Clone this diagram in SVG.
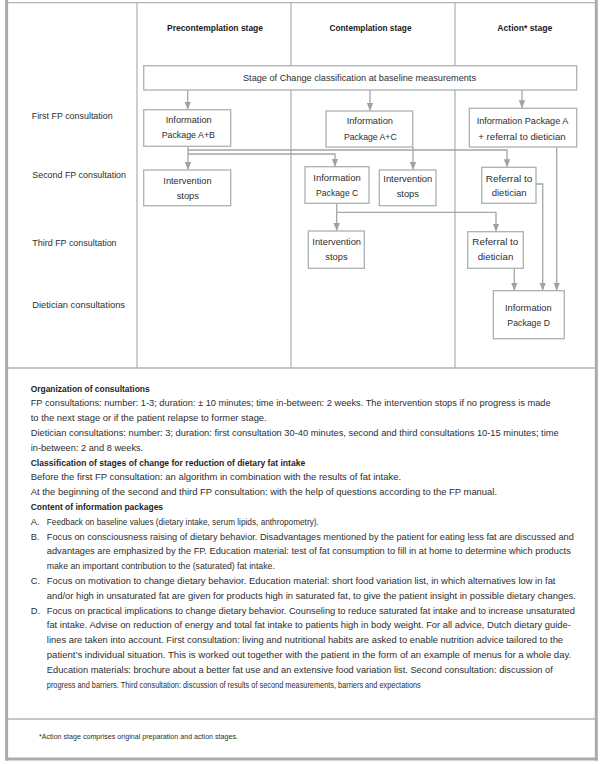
<svg xmlns="http://www.w3.org/2000/svg" width="600" height="764" viewBox="0 0 600 764">
<style>
text{font-family:"Liberation Sans",Arial,sans-serif;font-size:9.3px;fill:#2e2e2e}
.b{font-weight:bold;fill:#1e1e1e}
.h{font-weight:bold;fill:#1a1a1a}
.c{text-anchor:middle}
.box{fill:#fff;stroke:#acb1b1;stroke-width:1.3}
.grid{stroke:#b0b5b5;stroke-width:1.3;fill:none}
.frame{stroke:#a7adad;stroke-width:3;fill:none}
.con{stroke:#a2a7a7;stroke-width:1.3;fill:none}
.fn{font-size:7px}
</style>
<defs>
<marker id="ah" markerWidth="8" markerHeight="8" refX="8" refY="4" orient="auto" markerUnits="userSpaceOnUse">
<path d="M0,0.8 L8,4 L0,7.2 Z" fill="#9da2a2"/>
</marker>
</defs>
<rect width="600" height="764" fill="#fff"/>
<g id="frame">
<line class="grid" x1="8" y1="2.6" x2="595" y2="2.6"/>
<line class="frame" x1="6.6" y1="0" x2="6.6" y2="760.5"/>
<line class="frame" x1="596.3" y1="0" x2="596.3" y2="760.5"/>
<line class="frame" x1="5" y1="759" x2="598" y2="759"/>
<line class="grid" x1="137" y1="3" x2="137" y2="368"/>
<line class="grid" x1="291" y1="3" x2="291" y2="368"/>
<line class="grid" x1="455" y1="3" x2="455" y2="368"/>
<line class="grid" x1="8" y1="368" x2="595" y2="368"/>
<line class="grid" x1="8" y1="719" x2="595" y2="719"/>
</g>
<g id="headers">
<text class="h c" x="215" y="31" textLength="96" lengthAdjust="spacingAndGlyphs">Precontemplation stage</text>
<text class="h c" x="370.5" y="31" textLength="82" lengthAdjust="spacingAndGlyphs">Contemplation stage</text>
<text class="h c" x="524.8" y="31" textLength="55" lengthAdjust="spacingAndGlyphs">Action* stage</text>
</g>
<g id="row-labels">
<text x="31.7" y="119.3" textLength="81" lengthAdjust="spacingAndGlyphs">First FP consultation</text>
<text x="32.3" y="178.3" textLength="93.7" lengthAdjust="spacingAndGlyphs">Second FP consultation</text>
<text x="32.3" y="245.6" textLength="84.3" lengthAdjust="spacingAndGlyphs">Third FP consultation</text>
<text x="32.3" y="307.6" textLength="92.7" lengthAdjust="spacingAndGlyphs">Dietician consultations</text>
</g>
<g id="connectors">
<path class="con" d="M187.7,90 V109.7" marker-end="url(#ah)"/>
<path class="con" d="M370,90 V111" marker-end="url(#ah)"/>
<path class="con" d="M522,90 V108.3" marker-end="url(#ah)"/>
<path class="con" d="M188,146.3 V170" marker-end="url(#ah)"/>
<path class="con" d="M188,154 H335 V166.7" marker-end="url(#ah)"/>
<path class="con" d="M188,150 H507 V167.3" marker-end="url(#ah)"/>
<path class="con" d="M413,147 V170" marker-end="url(#ah)"/>
<path class="con" d="M336.7,203.3 V231" marker-end="url(#ah)"/>
<path class="con" d="M336.7,212.3 H496 V231.7" marker-end="url(#ah)"/>
<path class="con" d="M514.3,268.3 V290.7" marker-end="url(#ah)"/>
<path class="con" d="M536,184 H542.7 V290.7" marker-end="url(#ah)"/>
<path class="con" d="M556.7,147 V290.7" marker-end="url(#ah)"/>
</g>
<g id="baseline">
<rect class="box" x="143.7" y="65.7" width="433" height="24.3"/>
<text class="c" x="359.5" y="81.3" textLength="233" lengthAdjust="spacingAndGlyphs">Stage of Change classification at baseline measurements</text>
</g>
<g id="pkg-ab">
<rect class="box" x="143.7" y="109.7" width="87" height="36.6"/>
<text class="c" x="188.7" y="122.6" textLength="46" lengthAdjust="spacingAndGlyphs">Information</text>
<text class="c" x="188.3" y="137.6" textLength="53.3" lengthAdjust="spacingAndGlyphs">Package A+B</text>
</g>
<g id="pkg-ac">
<rect class="box" x="326" y="111" width="86.7" height="36"/>
<text class="c" x="369.8" y="124" textLength="46.3" lengthAdjust="spacingAndGlyphs">Information</text>
<text class="c" x="370.3" y="140" textLength="52.7" lengthAdjust="spacingAndGlyphs">Package A+C</text>
</g>
<g id="pkg-a-referral">
<rect class="box" x="469.3" y="108.3" width="107.4" height="38.7"/>
<text class="c" x="522.5" y="124" textLength="91.7" lengthAdjust="spacingAndGlyphs">Information Package A</text>
<text class="c" x="522" y="140" textLength="87.3" lengthAdjust="spacingAndGlyphs">+ referral to dietician</text>
</g>
<g id="stop-pre">
<rect class="box" x="143.7" y="170" width="87" height="35.7"/>
<text class="c" x="187.5" y="184.3" textLength="48.3" lengthAdjust="spacingAndGlyphs">Intervention</text>
<text class="c" x="187.8" y="199" textLength="22.3" lengthAdjust="spacingAndGlyphs">stops</text>
</g>
<g id="pkg-c">
<rect class="box" x="305" y="166.7" width="64" height="36.6"/>
<text class="c" x="337" y="180.6" textLength="47.4" lengthAdjust="spacingAndGlyphs">Information</text>
<text class="c" x="337.2" y="195.6" textLength="42.3" lengthAdjust="spacingAndGlyphs">Package C</text>
</g>
<g id="stop-cont">
<rect class="box" x="379.3" y="170" width="56.7" height="35.7"/>
<text class="c" x="407.8" y="182.3" textLength="49" lengthAdjust="spacingAndGlyphs">Intervention</text>
<text class="c" x="407.8" y="197" textLength="22.3" lengthAdjust="spacingAndGlyphs">stops</text>
</g>
<g id="referral-2">
<rect class="box" x="481.7" y="167.3" width="54.3" height="36"/>
<text class="c" x="509" y="181.6" textLength="46.6" lengthAdjust="spacingAndGlyphs">Referral to</text>
<text class="c" x="509.2" y="196" textLength="35" lengthAdjust="spacingAndGlyphs">dietician</text>
</g>
<g id="stop-third">
<rect class="box" x="308.3" y="231" width="56" height="37.3"/>
<text class="c" x="336.7" y="245" textLength="48.7" lengthAdjust="spacingAndGlyphs">Intervention</text>
<text class="c" x="336.5" y="260" textLength="22.3" lengthAdjust="spacingAndGlyphs">stops</text>
</g>
<g id="referral-3">
<rect class="box" x="467.7" y="231.7" width="55.6" height="36.6"/>
<text class="c" x="495.3" y="245" textLength="46" lengthAdjust="spacingAndGlyphs">Referral to</text>
<text class="c" x="495.5" y="260.3" textLength="35.6" lengthAdjust="spacingAndGlyphs">dietician</text>
</g>
<g id="pkg-d">
<rect class="box" x="493.3" y="290.7" width="71" height="48"/>
<text class="c" x="528.3" y="310.6" textLength="46.7" lengthAdjust="spacingAndGlyphs">Information</text>
<text class="c" x="528.7" y="325.6" textLength="42.7" lengthAdjust="spacingAndGlyphs">Package D</text>
</g>
<g id="notes">
<text class="b" x="30.7" y="391.6" textLength="119" lengthAdjust="spacingAndGlyphs">Organization of consultations</text>
<text x="30.7" y="406.4" textLength="520" lengthAdjust="spacingAndGlyphs">FP consultations: number: 1-3; duration: ± 10 minutes; time in-between: 2 weeks. The intervention stops if no progress is made</text>
<text x="30.7" y="421.2" textLength="236" lengthAdjust="spacingAndGlyphs">to the next stage or if the patient relapse to former stage.</text>
<text x="30.7" y="436" textLength="528" lengthAdjust="spacingAndGlyphs">Dietician consultations: number: 3; duration: first consultation 30-40 minutes, second and third consultations 10-15 minutes; time</text>
<text x="30.7" y="450.8" textLength="112.5" lengthAdjust="spacingAndGlyphs">in-between: 2 and 8 weeks.</text>
<text class="b" x="30.7" y="465.6" textLength="274.5" lengthAdjust="spacingAndGlyphs">Classification of stages of change for reduction of dietary fat intake</text>
<text x="30.7" y="480.4" textLength="370.4" lengthAdjust="spacingAndGlyphs">Before the first FP consultation: an algorithm in combination with the results of fat intake.</text>
<text x="30.7" y="495.2" textLength="466.4" lengthAdjust="spacingAndGlyphs">At the beginning of the second and third FP consultation: with the help of questions according to the FP manual.</text>
<text class="b" x="30.7" y="510" textLength="132.4" lengthAdjust="spacingAndGlyphs">Content of information packages</text>
<text x="30.7" y="524.8">A.</text>
<text x="46.8" y="524.8" textLength="272" lengthAdjust="spacingAndGlyphs">Feedback on baseline values (dietary intake, serum lipids, anthropometry).</text>
<text x="30.7" y="539.6">B.</text>
<text x="46.8" y="539.6" textLength="527" lengthAdjust="spacingAndGlyphs">Focus on consciousness raising of dietary behavior. Disadvantages mentioned by the patient for eating less fat are discussed and</text>
<text x="46.8" y="554.4" textLength="524" lengthAdjust="spacingAndGlyphs">advantages are emphasized by the FP. Education material: test of fat consumption to fill in at home to determine which products</text>
<text x="46.8" y="569.2" textLength="228" lengthAdjust="spacingAndGlyphs">make an important contribution to the (saturated) fat intake.</text>
<text x="30.7" y="584">C.</text>
<text x="46.8" y="584" textLength="508.7" lengthAdjust="spacingAndGlyphs">Focus on motivation to change dietary behavior. Education material: short food variation list, in which alternatives low in fat</text>
<text x="46.8" y="598.8" textLength="529" lengthAdjust="spacingAndGlyphs">and/or high in unsaturated fat are given for products high in saturated fat, to give the patient insight in possible dietary changes.</text>
<text x="30.7" y="613.6">D.</text>
<text x="46.8" y="613.6" textLength="528" lengthAdjust="spacingAndGlyphs">Focus on practical implications to change dietary behavior. Counseling to reduce saturated fat intake and to increase unsaturated</text>
<text x="46.8" y="628.4" textLength="524" lengthAdjust="spacingAndGlyphs">fat intake. Advise on reduction of energy and total fat intake to patients high in body weight. For all advice, Dutch dietary guide-</text>
<text x="46.8" y="643.2" textLength="516.3" lengthAdjust="spacingAndGlyphs">lines are taken into account. First consultation: living and nutritional habits are asked to enable nutrition advice tailored to the</text>
<text x="46.8" y="658" textLength="524.4" lengthAdjust="spacingAndGlyphs">patient’s individual situation. This is worked out together with the patient in the form of an example of menus for a whole day.</text>
<text x="46.8" y="672.8" textLength="506" lengthAdjust="spacingAndGlyphs">Education materials: brochure about a better fat use and an extensive food variation list. Second consultation: discussion of</text>
<text x="46.8" y="687.6" textLength="374" lengthAdjust="spacingAndGlyphs">progress and barriers. Third consultation: discussion of results of second measurements, barriers and expectations</text>
</g>
<g id="footnote">
<text class="fn" x="39" y="739.2" textLength="199" lengthAdjust="spacingAndGlyphs">*Action stage comprises original preparation and action stages.</text>
</g>
</svg>
